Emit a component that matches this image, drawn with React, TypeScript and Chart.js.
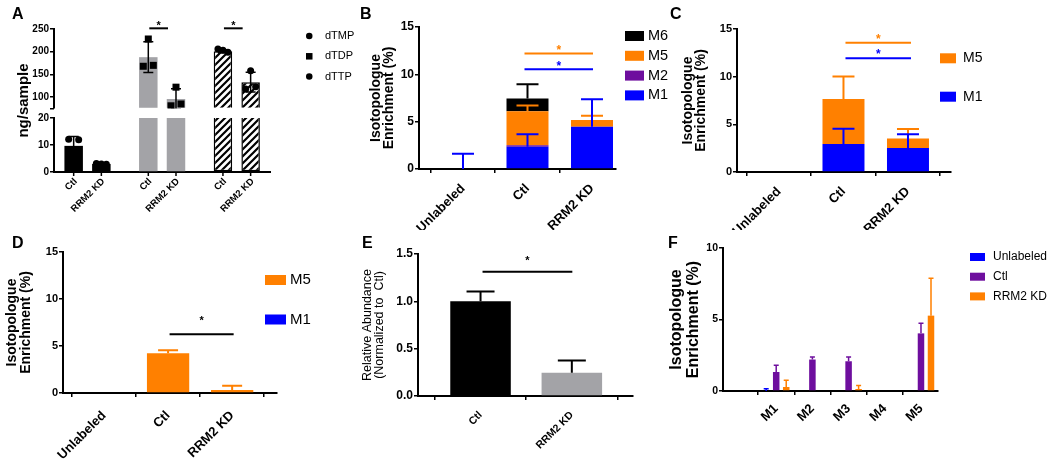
import React, { useEffect, useRef } from 'react';
import { Chart, registerables } from 'chart.js';

Chart.register(...registerables);

const FONT = "'Liberation Sans', Arial, Helvetica, sans-serif";
const BLUE = '#0000FF';
const ORANGE = '#FF8000';
const PURPLE = '#6E0E9E';
const BLACK = '#000000';
const GRAY = '#A3A3A7';

// ---------------- Panel A : nucleotide pools ----------------
const aNucleotides = ['dTMP', 'dTDP', 'dTTP'];
const aConditions = ['Ctl', 'RRM2 KD'];
const aCtlMean = [9.7, 188, 201];
const aCtlSD = [3.5, 34, 3.5];
const aKdMean = [3.0, 96, 133];
const aKdSD = [0.3, 22.6, 21.8];
const aCtlReps = [[4.9, 12.2, 12.0], [228, 168, 170], [203, 206, 199]];
const aKdReps = [[3.0, 3.2, 2.9], [122, 81, 85], [158, 118, 123]];
const aTopTicks = [75, 100, 150, 200, 250];
const aBottomTicks = [0, 5, 10, 15, 20];
const aBreakLow = 20;
const aBreakHigh = 75;
const aSigGroups = [1, 2];
const aSigValue = 251.5;

// ---------------- Panels B-D : isotopologue enrichment ----------------
const isoCategories = ['Unlabeled', 'Ctl', 'RRM2 KD'];

const bM1 = [0, 2.36, 4.47];
const bM1Err = [1.6, 1.3, 2.9];
const bM2 = [0, 0.15, 0];
const bM2Err = [0, 0, 0];
const bM5 = [0, 3.6, 0.7];
const bM5Err = [0, 0.6, 0.46];
const bM6 = [0, 1.35, 0];
const bM6Err = [0, 1.5, 0];
const bSig = [
  { from: 1, to: 2, value: 12.2, color: ORANGE },
  { from: 1, to: 2, value: 10.55, color: BLUE },
];

const cM1 = [0, 2.94, 2.52];
const cM1Err = [0, 1.6, 1.43];
const cM5 = [0, 4.72, 1.0];
const cM5Err = [0, 2.35, 1.0];
const cSig = [
  { from: 1, to: 2, value: 13.57, color: ORANGE },
  { from: 1, to: 2, value: 11.93, color: BLUE },
];

const dM1 = [0, 0, 0];
const dM5 = [0, 4.22, 0.32];
const dM5Err = [0, 0.32, 0.46];
const dSig = [{ from: 1, to: 2, value: 6.24, color: BLACK }];

// ---------------- Panel E : relative abundance ----------------
const eCategories = ['Ctl', 'RRM2 KD'];
const eValues = [1.0, 0.245];
const eErr = [0.105, 0.13];
const eSig = [{ from: 0, to: 1, value: 1.313, color: BLACK }];

// ---------------- Panel F : isotopologue distribution ----------------
const fCategories = ['', 'M1', 'M2', 'M3', 'M4', 'M5'];
const fUnlabeled = [0, 0, 0, 0, 0, 0];
const fUnlabeledErr = [0, 0.15, 0, 0, 0, 0];
const fCtl = [0, 1.33, 2.2, 2.08, 0, 4.03];
const fCtlErr = [0, 0.47, 0.17, 0.3, 0, 0.7];
const fKd = [0, 0.28, 0, 0.14, 0, 5.27];
const fKdErr = [0, 0.47, 0, 0.24, 0, 2.62];

// ---------------- helpers ----------------
type Geom = { left: number; top: number; width: number; height: number; area: { l: number; t: number; r: number; b: number } };

const font = (size: number, weight: string = 'bold', lineHeight: any = 1.2) => ({ family: FONT, size, weight, lineHeight });
const tickGrid = { display: true, drawOnChartArea: false, drawTicks: true, tickLength: 4, color: BLACK, lineWidth: 1.5 };
const axisBorder = { display: true, color: BLACK, width: 2 };
const toXY = (vals: (number | null)[]) => vals.map((y, x) => ({ x, y }));

function baseOptions(g: Geom) {
  return {
    responsive: false,
    maintainAspectRatio: false,
    animation: false,
    devicePixelRatio: 1,
    events: [],
    layout: { padding: { top: g.area.t - g.top, right: g.left + g.width - g.area.r, left: 0, bottom: 0 } },
    plugins: { legend: { display: false }, tooltip: { enabled: false }, title: { display: false } },
  };
}

function indexAxis(g: Geom, cats: string[], min: number, max: number, labelSize: number, labelPad: number, stacked: boolean) {
  return {
    type: 'linear',
    min,
    max,
    offset: false,
    stacked,
    afterBuildTicks: (s: any) => {
      s.ticks = cats.map((_, i) => ({ value: i }));
    },
    ticks: {
      autoSkip: false,
      minRotation: 45,
      maxRotation: 45,
      padding: labelPad,
      color: BLACK,
      font: font(labelSize),
      callback: (v: number) => cats[v] ?? '',
    },
    grid: tickGrid,
    border: axisBorder,
    afterFit: (s: any) => {
      s.height = g.top + g.height - g.area.b;
    },
  };
}

function valueAxis(g: Geom, o: any) {
  const ticks: any = { stepSize: o.step, color: BLACK, font: font(o.tickSize), padding: 1 };
  if (o.decimals) ticks.callback = (v: number) => v.toFixed(o.decimals);
  return {
    type: 'linear',
    position: 'left',
    min: o.min,
    max: o.max,
    stacked: !!o.stacked,
    ticks,
    grid: tickGrid,
    border: axisBorder,
    title: { display: true, text: o.title, color: BLACK, font: o.titleFont, padding: { top: o.titlePad, bottom: 0 } },
    afterFit: (s: any) => {
      s.width = g.area.l - g.left;
    },
  };
}

function errorBars(id: string, specs: { ds: number; errs: number[]; color: string; cap: number; width: number }[]) {
  return {
    id,
    afterDatasetsDraw(chart: any) {
      const ctx = chart.ctx;
      ctx.save();
      for (const s of specs) {
        const meta = chart.getDatasetMeta(s.ds);
        const ys = chart.scales[meta.yAxisID];
        meta.data.forEach((el: any, i: number) => {
          const e = s.errs[i];
          if (!e) return;
          const endVal = ys.getValueForPixel(el.y);
          const yEnd = ys.getPixelForValue(endVal + e);
          ctx.strokeStyle = s.color;
          ctx.lineWidth = s.width;
          ctx.beginPath();
          ctx.moveTo(el.x, el.y);
          ctx.lineTo(el.x, yEnd);
          ctx.moveTo(el.x - s.cap / 2, yEnd);
          ctx.lineTo(el.x + s.cap / 2, yEnd);
          ctx.stroke();
        });
      }
      ctx.restore();
    },
  };
}

function drawStar(ctx: any, x: number, lineY: number, color: string, size: number, gap: number) {
  ctx.fillStyle = color;
  ctx.font = `bold ${size}px ${FONT}`;
  ctx.textAlign = 'center';
  ctx.textBaseline = 'alphabetic';
  ctx.fillText('*', x, lineY - gap + 0.58 * size);
}

function sigBars(id: string, items: { from: number; to: number; value: number; color: string }[], o: { size: number; gap: number; inset: [number, number] }) {
  return {
    id,
    afterDraw(chart: any) {
      const ctx = chart.ctx;
      const xs = chart.scales.x;
      const ys = chart.scales.y;
      ctx.save();
      for (const it of items) {
        const x1 = xs.getPixelForValue(it.from) + o.inset[0];
        const x2 = xs.getPixelForValue(it.to) + o.inset[1];
        const y = ys.getPixelForValue(it.value);
        ctx.strokeStyle = it.color;
        ctx.lineWidth = 2;
        ctx.beginPath();
        ctx.moveTo(x1, y);
        ctx.lineTo(x2, y);
        ctx.stroke();
        drawStar(ctx, (x1 + x2) / 2, y, it.color, o.size, o.gap);
      }
      ctx.restore();
    },
  };
}

type LegendItem = { text: string; color: string; marker?: string };
function legendBox(id: string, items: LegendItem[], o: { x: number; y: number; gap: number; boxW: number; boxH: number; textX: number; size: number }) {
  return {
    id,
    afterDraw(chart: any) {
      const ctx = chart.ctx;
      ctx.save();
      ctx.font = `${o.size}px ${FONT}`;
      ctx.textAlign = 'left';
      ctx.textBaseline = 'middle';
      items.forEach((it, i) => {
        const cy = o.y + i * o.gap;
        ctx.fillStyle = it.color;
        if (it.marker === 'circle') {
          ctx.beginPath();
          ctx.arc(o.x + o.boxW / 2, cy, o.boxW / 2, 0, Math.PI * 2);
          ctx.fill();
        } else {
          ctx.fillRect(o.x, cy - o.boxH / 2, o.boxW, o.boxH);
        }
        ctx.fillStyle = BLACK;
        ctx.fillText(it.text, o.x + o.textX, cy);
      });
      ctx.restore();
    },
  };
}

// ---------------- Panel geometries (page pixels) ----------------
const gA: Geom = { left: 0, top: 0, width: 365, height: 230, area: { l: 54, t: 29, r: 270, b: 172 } };
const gB: Geom = { left: 340, top: 0, width: 335, height: 230, area: { l: 419, t: 27, r: 616, b: 169 } };
const gC: Geom = { left: 675, top: 0, width: 375, height: 230, area: { l: 737, t: 29, r: 951, b: 172 } };
const gD: Geom = { left: 0, top: 230, width: 340, height: 230, area: { l: 63, t: 252, r: 277, b: 393 } };
const gE: Geom = { left: 340, top: 230, width: 320, height: 230, area: { l: 418, t: 254, r: 633, b: 396 } };
const gF: Geom = { left: 660, top: 230, width: 390, height: 230, area: { l: 723, t: 248, r: 938, b: 391 } };

const isoTitle = ['Isotopologue', 'Enrichment (%)'];

// ---------------- Panel A ----------------
const aMarkers = ['circle', 'square', 'circle'];

function makeStripes(ctx: any) {
  const c = document.createElement('canvas');
  c.width = 7;
  c.height = 7;
  const g = c.getContext('2d')!;
  g.fillStyle = '#ffffff';
  g.fillRect(0, 0, 7, 7);
  g.strokeStyle = BLACK;
  g.lineWidth = 2.2;
  g.beginPath();
  g.moveTo(0, 7);
  g.lineTo(7, 0);
  g.moveTo(-1, 1);
  g.lineTo(1, -1);
  g.moveTo(6, 8);
  g.lineTo(8, 6);
  g.stroke();
  return ctx.createPattern(c, 'repeat');
}

function buildA(canvas: HTMLCanvasElement) {
  const stripes = makeStripes(canvas.getContext('2d'));
  const fills = [BLACK, GRAY, stripes];
  const borders = [0, 0, 1.5];
  const low = (m: number[]) => toXY(m.map((v) => Math.min(v, aBreakLow)));
  const high = (m: number[]) => toXY(m.map((v) => (v > aBreakHigh ? v : null)));
  const common = { backgroundColor: fills, borderColor: BLACK, borderWidth: borders, categoryPercentage: 0.742, barPercentage: 0.668 };
  const yTickFont = font(10);

  const plugin = {
    id: 'panelA',
    afterDatasetsDraw(chart: any) {
      const ctx = chart.ctx;
      const yTop = chart.scales.yTop;
      const yBot = chart.scales.yBot;
      const segs = [
        { s: yTop, y0: 0, y1: yTop.getPixelForValue(aBreakHigh) },
        { s: yBot, y0: yBot.getPixelForValue(aBreakLow), y1: chart.height },
      ];
      const metas = [chart.getDatasetMeta(0), chart.getDatasetMeta(1)];
      const means = [aCtlMean, aKdMean];
      const sds = [aCtlSD, aKdSD];
      const reps = [aCtlReps, aKdReps];
      const jitter = [0, -5, 5];
      for (const seg of segs) {
        ctx.save();
        ctx.beginPath();
        ctx.rect(0, seg.y0, chart.width, seg.y1 - seg.y0);
        ctx.clip();
        metas.forEach((meta: any, c: number) => {
          meta.data.forEach((el: any, gi: number) => {
            const m = means[c][gi];
            const sd = sds[c][gi];
            const hi = seg.s.getPixelForValue(m + sd);
            const lo = seg.s.getPixelForValue(m - sd);
            ctx.strokeStyle = BLACK;
            ctx.lineWidth = 1.5;
            ctx.beginPath();
            ctx.moveTo(el.x, lo);
            ctx.lineTo(el.x, hi);
            ctx.moveTo(el.x - 5, hi);
            ctx.lineTo(el.x + 5, hi);
            ctx.moveTo(el.x - 5, lo);
            ctx.lineTo(el.x + 5, lo);
            ctx.stroke();
            ctx.fillStyle = BLACK;
            reps[c][gi].forEach((v: number, k: number) => {
              const px = el.x + jitter[k];
              const py = seg.s.getPixelForValue(v);
              if (aMarkers[gi] === 'square') ctx.fillRect(px - 3.5, py - 3.5, 7, 7);
              else {
                ctx.beginPath();
                ctx.arc(px, py, 3.5, 0, Math.PI * 2);
                ctx.fill();
              }
            });
          });
        });
        ctx.restore();
      }
    },
    afterDraw(chart: any) {
      const ctx = chart.ctx;
      const yTop = chart.scales.yTop;
      const xs = chart.scales.x;
      ctx.save();
      // upper segment of the broken y axis
      ctx.strokeStyle = BLACK;
      ctx.lineWidth = 2;
      ctx.beginPath();
      ctx.moveTo(yTop.right, yTop.getPixelForValue(aBreakHigh));
      ctx.lineTo(yTop.right, yTop.getPixelForValue(yTop.max) - 1);
      ctx.stroke();
      // per-bar ticks and labels
      const axisY = xs.top;
      [0, 1].forEach((d) => {
        chart.getDatasetMeta(d).data.forEach((el: any) => {
          ctx.strokeStyle = BLACK;
          ctx.lineWidth = 1.5;
          ctx.beginPath();
          ctx.moveTo(el.x, axisY);
          ctx.lineTo(el.x, axisY + 4);
          ctx.stroke();
          ctx.save();
          ctx.translate(el.x + 2, axisY + 8);
          ctx.rotate(-Math.PI / 4);
          ctx.font = `bold 9.5px ${FONT}`;
          ctx.fillStyle = BLACK;
          ctx.textAlign = 'right';
          ctx.textBaseline = 'middle';
          ctx.fillText(aConditions[d], 0, 0);
          ctx.restore();
        });
      });
      // y title spanning both segments
      ctx.save();
      ctx.translate(24, (chart.chartArea.top + chart.chartArea.bottom) / 2);
      ctx.rotate(-Math.PI / 2);
      ctx.font = `bold 15px ${FONT}`;
      ctx.fillStyle = BLACK;
      ctx.textAlign = 'center';
      ctx.textBaseline = 'middle';
      ctx.fillText('ng/sample', 0, 0);
      ctx.restore();
      // significance
      aSigGroups.forEach((gi) => {
        const x1 = chart.getDatasetMeta(0).data[gi].x + 1;
        const x2 = chart.getDatasetMeta(1).data[gi].x - 8;
        const y = yTop.getPixelForValue(aSigValue);
        ctx.strokeStyle = BLACK;
        ctx.lineWidth = 2;
        ctx.beginPath();
        ctx.moveTo(x1, y);
        ctx.lineTo(x2, y);
        ctx.stroke();
        drawStar(ctx, (x1 + x2) / 2, y, BLACK, 11, 5.6);
      });
      ctx.restore();
    },
  };

  return {
    type: 'bar',
    data: {
      datasets: [
        { label: 'Ctl', data: low(aCtlMean), yAxisID: 'yBot', stack: 'ctl', borderSkipped: 'top', ...common },
        { label: 'RRM2 KD', data: low(aKdMean), yAxisID: 'yBot', stack: 'kd', borderSkipped: 'top', ...common },
        { label: 'Ctl', data: high(aCtlMean), yAxisID: 'yTop', stack: 'ctl', base: aBreakHigh, borderSkipped: 'bottom', ...common },
        { label: 'RRM2 KD', data: high(aKdMean), yAxisID: 'yTop', stack: 'kd', base: aBreakHigh, borderSkipped: 'bottom', ...common },
      ],
    },
    options: {
      ...baseOptions(gA),
      scales: {
        x: {
          type: 'linear',
          min: -0.449,
          max: 2.445,
          offset: false,
          afterBuildTicks: (s: any) => {
            s.ticks = aNucleotides.map((_, i) => ({ value: i }));
          },
          ticks: { display: false },
          grid: { display: false },
          border: axisBorder,
          afterFit: (s: any) => {
            s.height = gA.top + gA.height - gA.area.b;
          },
        },
        yBot: {
          type: 'linear',
          position: 'left',
          stack: 'broken',
          stackWeight: 54,
          stacked: false,
          min: 0,
          max: aBreakLow,
          afterBuildTicks: (s: any) => {
            s.ticks = aBottomTicks.map((v) => ({ value: v }));
          },
          ticks: { color: BLACK, font: yTickFont, padding: 1 },
          grid: tickGrid,
          border: axisBorder,
          afterFit: (s: any) => {
            s.width = gA.area.l - gA.left;
          },
        },
        yTop: {
          type: 'linear',
          position: 'left',
          stack: 'broken',
          stackWeight: 89.3,
          stacked: false,
          min: 53.9,
          max: 250,
          afterBuildTicks: (s: any) => {
            s.ticks = aTopTicks.map((v) => ({ value: v }));
          },
          ticks: { color: BLACK, font: yTickFont, padding: 1, callback: (v: number) => (v === aBreakHigh ? '' : String(v)) },
          grid: tickGrid,
          border: { display: false },
          afterFit: (s: any) => {
            s.width = gA.area.l - gA.left;
          },
        },
      },
    },
    plugins: [
      plugin,
      legendBox('legA', aNucleotides.map((t, i) => ({ text: t, color: BLACK, marker: aMarkers[i] })), {
        x: 306,
        y: 36,
        gap: 20.3,
        boxW: 6.5,
        boxH: 6.5,
        textX: 19,
        size: 11,
      }),
    ],
  };
}

// ---------------- Panel B ----------------
function buildB() {
  const sets = [
    { label: 'M1', data: bM1, err: bM1Err, color: BLUE },
    { label: 'M2', data: bM2, err: bM2Err, color: PURPLE },
    { label: 'M5', data: bM5, err: bM5Err, color: ORANGE },
    { label: 'M6', data: bM6, err: bM6Err, color: BLACK },
  ];
  return {
    type: 'bar',
    data: {
      datasets: sets.map((s) => ({ label: s.label, data: toXY(s.data), backgroundColor: s.color, borderWidth: 0, categoryPercentage: 1, barPercentage: 0.651 })),
    },
    options: {
      ...baseOptions(gB),
      scales: {
        x: indexAxis(gB, isoCategories, -0.682, 2.372, 13, 8, true),
        y: valueAxis(gB, { min: 0, max: 15, step: 5, tickSize: 12, title: isoTitle, titleFont: font(14, 'bold', 0.96), titlePad: 29, stacked: true }),
      },
    },
    plugins: [
      errorBars('errB', sets.map((s, i) => ({ ds: i, errs: s.err, color: s.color, cap: 22, width: 2 })).reverse()),
      sigBars('sigB', bSig, { size: 12, gap: 6.3, inset: [-3, 1] }),
      legendBox('legB', sets.map((s) => ({ text: s.label, color: s.color })).reverse(), {
        x: 625 - gB.left,
        y: 36,
        gap: 19.8,
        boxW: 19,
        boxH: 10,
        textX: 23,
        size: 14.5,
      }),
    ],
  };
}

// ---------------- Panel C ----------------
function buildC() {
  const sets = [
    { label: 'M1', data: cM1, err: cM1Err, color: BLUE },
    { label: 'M5', data: cM5, err: cM5Err, color: ORANGE },
  ];
  return {
    type: 'bar',
    data: {
      datasets: sets.map((s) => ({ label: s.label, data: toXY(s.data), backgroundColor: s.color, borderWidth: 0, categoryPercentage: 1, barPercentage: 0.651 })),
    },
    options: {
      ...baseOptions(gC),
      scales: {
        x: indexAxis(gC, isoCategories, -0.651, 2.667, 13, 8, true),
        y: valueAxis(gC, { min: 0, max: 15, step: 5, tickSize: 11, title: isoTitle, titleFont: font(14, 'bold', 0.96), titlePad: 6, stacked: true }),
      },
    },
    plugins: [
      errorBars('errC', sets.map((s, i) => ({ ds: i, errs: s.err, color: s.color, cap: 22, width: 2 })).reverse()),
      sigBars('sigC', cSig, { size: 12, gap: 6.8, inset: [2, 3] }),
      legendBox('legC', sets.map((s) => ({ text: s.label, color: s.color })).reverse(), {
        x: 940 - gC.left,
        y: 58.3,
        gap: 38.4,
        boxW: 16,
        boxH: 10,
        textX: 23,
        size: 14,
      }),
    ],
  };
}

// ---------------- Panel D ----------------
function buildD() {
  const sets = [
    { label: 'M1', data: dM1, err: [0, 0, 0], color: BLUE },
    { label: 'M5', data: dM5, err: dM5Err, color: ORANGE },
  ];
  return {
    type: 'bar',
    data: {
      datasets: sets.map((s) => ({ label: s.label, data: toXY(s.data), backgroundColor: s.color, borderWidth: 0, categoryPercentage: 1, barPercentage: 0.66 })),
    },
    options: {
      ...baseOptions(gD),
      scales: {
        x: indexAxis(gD, isoCategories, -0.64, 2.7, 13, 11, true),
        y: valueAxis(gD, { min: 0, max: 15, step: 5, tickSize: 11, title: isoTitle, titleFont: font(14, 'bold', 0.96), titlePad: 5.5, stacked: true }),
      },
    },
    plugins: [
      errorBars('errD', sets.map((s, i) => ({ ds: i, errs: s.err, color: s.color, cap: 20, width: 2 }))),
      sigBars('sigD', dSig, { size: 11, gap: 17, inset: [1.5, 1.5] }),
      legendBox('legD', sets.map((s) => ({ text: s.label, color: s.color })).reverse(), {
        x: 265,
        y: 50,
        gap: 39.5,
        boxW: 21,
        boxH: 10,
        textX: 25,
        size: 15,
      }),
    ],
  };
}

// ---------------- Panel E ----------------
function buildE() {
  return {
    type: 'bar',
    data: {
      datasets: [
        { label: 'Relative abundance', data: toXY(eValues), backgroundColor: [BLACK, GRAY], borderWidth: 0, categoryPercentage: 1, barPercentage: 0.663 },
      ],
    },
    options: {
      ...baseOptions(gE),
      scales: {
        x: indexAxis(gE, eCategories, -0.685, 1.67, 10.5, 9, false),
        y: valueAxis(gE, {
          min: 0,
          max: 1.5,
          step: 0.5,
          tickSize: 12,
          decimals: 1,
          title: ['Relative Abundance', '(Normalized to  Ctl)'],
          titleFont: font(12.5, 'normal', 0.96),
          titlePad: 22,
        }),
      },
    },
    plugins: [
      errorBars('errE', [{ ds: 0, errs: eErr, color: BLACK, cap: 28, width: 2 }]),
      sigBars('sigE', eSig, { size: 11, gap: 14, inset: [2, 0.5] }),
    ],
  };
}

// ---------------- Panel F ----------------
function buildF() {
  const sets = [
    { label: 'Unlabeled', data: fUnlabeled, err: fUnlabeledErr, color: BLUE },
    { label: 'Ctl', data: fCtl, err: fCtlErr, color: PURPLE },
    { label: 'RRM2 KD', data: fKd, err: fKdErr, color: ORANGE },
  ];
  return {
    type: 'bar',
    data: {
      datasets: sets.map((s) => ({ label: s.label, data: toXY(s.data), backgroundColor: s.color, borderWidth: 0, categoryPercentage: 0.83, barPercentage: 0.65 })),
    },
    options: {
      ...baseOptions(gF),
      scales: {
        x: indexAxis(gF, fCategories, -0.47, 5.47, 13, 6, false),
        y: valueAxis(gF, { min: 0, max: 10, step: 5, tickSize: 10.5, title: isoTitle, titleFont: font(16, 'bold', 1.06), titlePad: 8.5 }),
      },
    },
    plugins: [
      errorBars('errF', sets.map((s, i) => ({ ds: i, errs: s.err, color: s.color, cap: 5, width: 1.5 }))),
      legendBox('legF', sets.map((s) => ({ text: s.label, color: s.color })), {
        x: 970 - gF.left,
        y: 27,
        gap: 19.7,
        boxW: 15,
        boxH: 8,
        textX: 23,
        size: 12,
      }),
    ],
  };
}

function ChartCanvas({ geom, build }: { geom: Geom; build: (c: HTMLCanvasElement) => any }) {
  const ref = useRef<HTMLCanvasElement>(null);
  useEffect(() => {
    const canvas = ref.current!;
    const chart = new Chart(canvas, build(canvas));
    return () => chart.destroy();
  }, []);
  return (
    <canvas
      ref={ref}
      width={geom.width}
      height={geom.height}
      style={{ position: 'absolute', left: geom.left, top: geom.top, width: geom.width, height: geom.height }}
    />
  );
}

const panelLetters = [
  { t: 'A', x: 12, y: 6 },
  { t: 'B', x: 360, y: 6 },
  { t: 'C', x: 670, y: 6 },
  { t: 'D', x: 12, y: 235 },
  { t: 'E', x: 362, y: 235 },
  { t: 'F', x: 668, y: 235 },
];

export default function App() {
  return (
    <div style={{ position: 'fixed', left: 0, top: 0, width: 1050, height: 460, background: '#ffffff', overflow: 'hidden' }}>
      <ChartCanvas geom={gA} build={buildA} />
      <ChartCanvas geom={gB} build={buildB} />
      <ChartCanvas geom={gC} build={buildC} />
      <ChartCanvas geom={gD} build={buildD} />
      <ChartCanvas geom={gE} build={buildE} />
      <ChartCanvas geom={gF} build={buildF} />
      {panelLetters.map((p) => (
        <div
          key={p.t}
          style={{ position: 'absolute', left: p.x, top: p.y, font: `bold 16px ${FONT}`, lineHeight: '16px', color: BLACK }}
        >
          {p.t}
        </div>
      ))}
    </div>
  );
}
